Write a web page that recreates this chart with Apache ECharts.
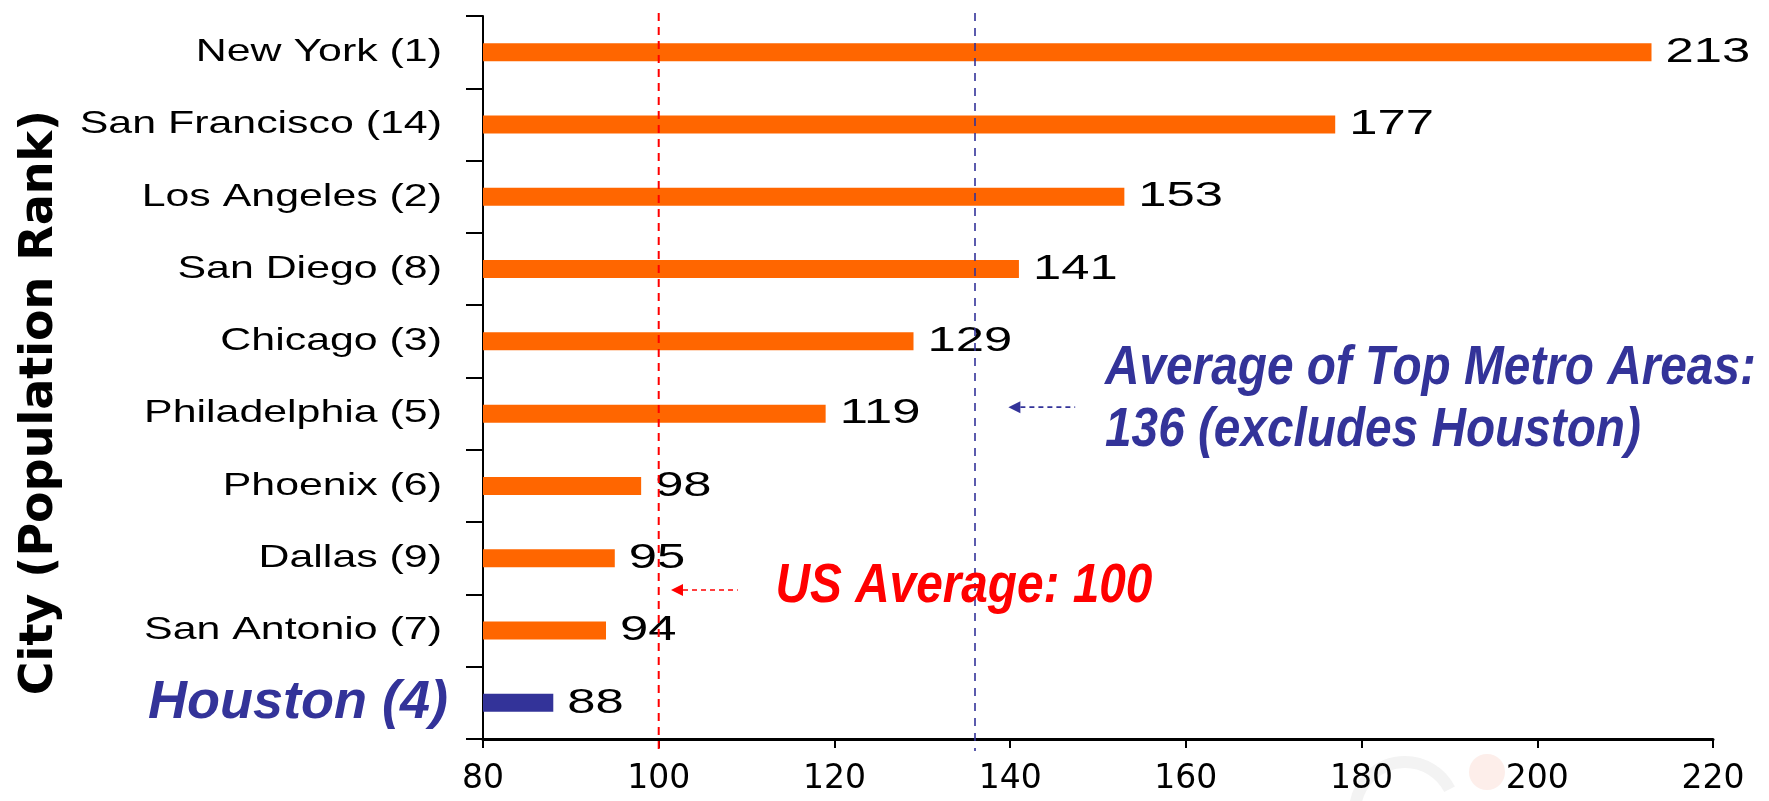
<!DOCTYPE html>
<html>
<head>
<meta charset="utf-8">
<script src="https://cdn.jsdelivr.net/npm/echarts@6/dist/echarts.min.js"></script>
<style>
  html, body { margin: 0; padding: 0; background: #ffffff; }
  #chart { width: 1769px; height: 801px; }
</style>
</head>
<body>
<div id="chart"></div>
<script>
// Cost-of-living index by metro area, population rank in brackets
const cities = [
  'New York (1)', 'San Francisco (14)', 'Los Angeles (2)', 'San Diego (8)',
  'Chicago (3)', 'Philadelphia (5)', 'Phoenix (6)', 'Dallas (9)',
  'San Antonio (7)', 'Houston (4)'
];
const indexValues = [213, 177, 153, 141, 129, 119, 98, 95, 94, 88];
const highlightCity = 'Houston (4)';

// value axis range
const xMin = 80;
const xMax = 220;
const xStep = 20;

// reference averages: US = 100, top metro areas = 136
const refLines = [100, 136];
const refColors = ['#FF0000', '#333399'];

// callouts: arrow tail/tip in index units, row in category bands
const notes = [
  { text: 'US Average: 100', color: '#FF0000', tail: 109.0, tip: 101.4, row: 7.44, textAt: 113.3, textRow: 7.40 },
  { text: 'Average of Top Metro Areas:\n136 (excludes Houston)', color: '#333399', tail: 147.4, tip: 139.8, row: 4.91, textAt: 150.8, textRow: 4.81 }
];

const ORANGE = '#FF6600';
const NAVY = '#333399';
const SANS = '"Liberation Sans", Arial, sans-serif';

const chart = echarts.init(document.getElementById('chart'), null, { renderer: 'canvas' });

function bandHeight(params) {
  return params.coordSys.height / cities.length;
}

const option = {
  backgroundColor: '#ffffff',
  animation: false,
  grid: { left: 483, right: 56, top: 16, bottom: 62, containLabel: false, outerBoundsMode: 'none' },
  xAxis: {
    type: 'value',
    min: xMin,
    max: xMax,
    interval: xStep,
    splitLine: { show: false },
    axisLine: { show: true, lineStyle: { color: '#000000', width: 3 } },
    axisTick: { show: true, length: 9, lineStyle: { color: '#000000', width: 2 } },
    axisLabel: { color: '#000000', fontSize: 33, fontFamily: '"DejaVu Sans", sans-serif', margin: 24 }
  },
  yAxis: {
    type: 'category',
    data: cities,
    inverse: true,
    name: 'City (Population Rank)',
    nameLocation: 'middle',
    nameRotate: 90,
    nameGap: 420,
    nameTextStyle: {
      color: '#000000', fontSize: 46, fontWeight: 'bold',
      fontFamily: '"DejaVu Sans", sans-serif', padding: [0, 50, 0, 0]
    },
    axisLine: { show: true, lineStyle: { color: '#000000', width: 2 } },
    axisTick: { show: true, length: 17, lineStyle: { color: '#000000', width: 2 } },
    // city names are drawn by the label series below (wide-set lettering)
    axisLabel: { show: false },
    splitLine: { show: false }
  },
  series: [
    {
      type: 'bar',
      barWidth: 18,
      data: indexValues.map((v, i) => ({
        value: v,
        itemStyle: { color: cities[i] === highlightCity ? NAVY : ORANGE }
      })),
      z: 2
    },
    {
      // city names left of the axis and index values right of each bar
      type: 'custom',
      z: 4,
      silent: true,
      encode: { x: 0, y: 1 },
      data: indexValues.map((v, i) => [v, i]),
      renderItem: (params, api) => {
        const v = api.value(0);
        const i = api.value(1);
        const end = api.coord([v, i]);
        const axisX = params.coordSys.x;
        const isHi = cities[i] === highlightCity;
        const nameEl = isHi ? {
          type: 'text',
          x: axisX - 35,
          y: end[1],
          style: {
            text: cities[i], fill: NAVY, fontSize: 54, fontWeight: 'bold', fontStyle: 'italic',
            fontFamily: SANS, align: 'right', verticalAlign: 'middle'
          }
        } : {
          type: 'text',
          x: axisX - 41,
          y: end[1],
          scaleX: 1.34,
          style: {
            text: cities[i], fill: '#000000', fontSize: 32, fontFamily: SANS,
            align: 'right', verticalAlign: 'middle'
          }
        };
        return {
          type: 'group',
          children: [
            nameEl,
            {
              type: 'text',
              x: end[0] + 14,
              y: end[1],
              scaleX: 1.45,
              style: {
                text: String(v), fill: '#000000', fontSize: 35, fontFamily: SANS,
                align: 'left', verticalAlign: 'middle'
              }
            }
          ]
        };
      }
    },
    {
      // dashed reference lines, running slightly past the plot edges
      type: 'custom',
      z: 5,
      silent: true,
      encode: { x: 0, y: 1 },
      data: refLines.map((v, i) => [v, 0, i]),
      renderItem: (params, api) => {
        const x = api.coord([api.value(0), 0])[0];
        const cs = params.coordSys;
        const i = api.value(2);
        return {
          type: 'line',
          shape: { x1: x, y1: cs.y - 3, x2: x, y2: cs.y + cs.height + 12 },
          style: { stroke: refColors[i], lineWidth: i === 0 ? 2 : 1.6, lineDash: i === 0 ? [8, 6] : [8, 7] }
        };
      }
    },
    {
      // callout arrows and their texts
      type: 'custom',
      z: 6,
      silent: true,
      encode: { x: 0, y: 1 },
      data: notes.map((n, i) => [n.tip, 0, i]),
      renderItem: (params, api) => {
        const n = notes[api.value(2)];
        const bh = bandHeight(params);
        const y0 = api.coord([n.tip, 0])[1];
        const y = y0 + n.row * bh;
        const ty = y0 + n.textRow * bh;
        const tipX = api.coord([n.tip, 0])[0];
        const tailX = api.coord([n.tail, 0])[0];
        const textX = api.coord([n.textAt, 0])[0];
        const head = 12;
        return {
          type: 'group',
          children: [
            {
              type: 'line',
              shape: { x1: tipX + head, y1: y, x2: tailX, y2: y },
              style: { stroke: n.color, lineWidth: 1.6, lineDash: [5, 4] }
            },
            {
              type: 'polygon',
              shape: { points: [[tipX, y], [tipX + head, y - 6], [tipX + head, y + 6]] },
              style: { fill: n.color }
            },
            {
              type: 'text',
              x: textX,
              y: ty,
              scaleX: 0.868,
              style: {
                text: n.text,
                fill: n.color,
                fontSize: 55,
                fontWeight: 'bold',
                fontStyle: 'italic',
                fontFamily: SANS,
                lineHeight: 62,
                align: 'left',
                verticalAlign: 'middle'
              }
            }
          ]
        };
      }
    }
  ],
  graphic: [
    {
      // faint logo remnant near the lower right
      type: 'arc',
      silent: true,
      shape: { cx: 1405, cy: 812, r: 50, startAngle: Math.PI, endAngle: Math.PI * 1.85 },
      style: { stroke: '#f3f3f3', lineWidth: 12, fill: null },
      z: -1
    },
    {
      type: 'circle',
      silent: true,
      shape: { cx: 1487, cy: 772, r: 18 },
      style: { fill: '#fdeeea' },
      z: -1
    }
  ]
};

chart.setOption(option);
</script>
</body>
</html>
